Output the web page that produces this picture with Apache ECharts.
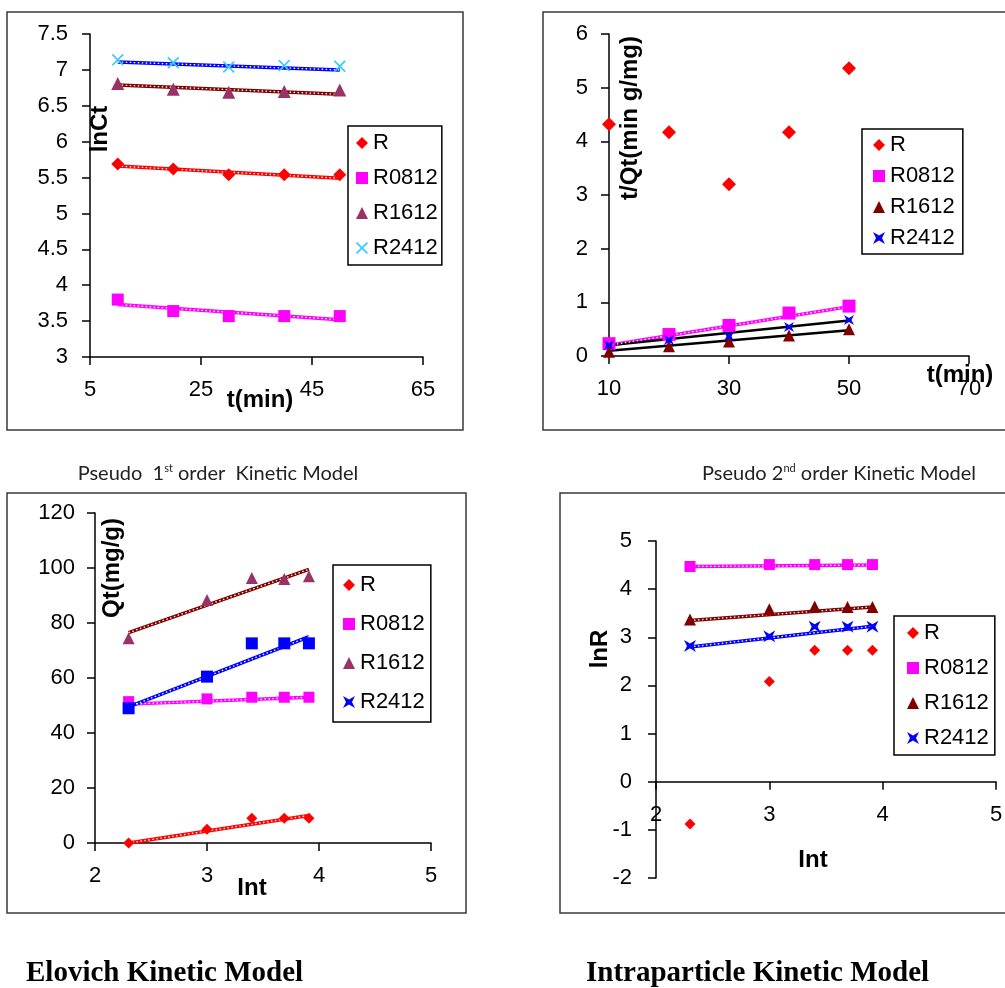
<!DOCTYPE html>
<html>
<head>
<meta charset="utf-8">
<script src="https://cdn.jsdelivr.net/npm/echarts@6.0.0/dist/echarts.min.js"></script>
<style>
html, body { margin: 0; padding: 0; background: #fff; }
#main { width: 1005px; height: 988px; }
</style>
</head>
<body>
<div id="main"></div>
<script>
// x values
var tMin = [10, 20, 30, 40, 50];
var lnT = [2.3, 3.0, 3.4, 3.69, 3.91];
var names = ['R', 'R0812', 'R1612', 'R2412'];

// panel 1: lnCt vs t(min)
var lnCt_R = [5.69, 5.62, 5.54, 5.54, 5.54];
var lnCt_R0812 = [3.8, 3.64, 3.57, 3.57, 3.57];
var lnCt_R1612 = [6.81, 6.73, 6.69, 6.7, 6.72];
var lnCt_R2412 = [7.14, 7.1, 7.04, 7.06, 7.05];
var lnCtFit_R = [5.66, 5.49];
var lnCtFit_R0812 = [3.73, 3.52];
var lnCtFit_R1612 = [6.79, 6.66];
var lnCtFit_R2412 = [7.11, 7.0];

// panel 2: t/Qt vs t(min)
var tQt_R = [4.32, 4.17, 3.2, 4.17, 5.36];
var tQt_R0812 = [0.23, 0.4, 0.57, 0.8, 0.93];
var tQt_R1612 = [0.08, 0.18, 0.27, 0.38, 0.5];
var tQt_R2412 = [0.2, 0.3, 0.37, 0.54, 0.67];
var tQtFit_R0812 = [0.2, 0.92];
var tQtFit_R1612 = [0.1, 0.48];
var tQtFit_R2412 = [0.2, 0.66];

// panel 3: Qt vs lnt
var Qt_R = [0, 5, 9, 9, 9];
var Qt_R0812 = [51.4, 52.4, 53, 53, 53];
var Qt_R1612 = [74.5, 88.4, 96.4, 96, 97];
var Qt_R2412 = [49, 60.5, 72.6, 72.6, 72.6];
var QtFit_R = [0, 10];
var QtFit_R0812 = [50.5, 53];
var QtFit_R1612 = [76.5, 99.5];
var QtFit_R2412 = [49.5, 75];

// panel 4: lnR vs lnt
var lnR_R = [-0.88, 2.08, 2.73, 2.73, 2.73];
var lnR_R0812 = [4.47, 4.51, 4.51, 4.51, 4.51];
var lnR_R1612 = [3.37, 3.58, 3.64, 3.63, 3.63];
var lnR_R2412 = [2.82, 3.02, 3.22, 3.22, 3.22];
var lnRFit_R0812 = [4.47, 4.5];
var lnRFit_R1612 = [3.35, 3.63];
var lnRFit_R2412 = [2.8, 3.23];

// tick labels
var ticks1x = [5, 25, 45, 65];
var ticks2x = [10, 30, 50, 70];

var FONT = '"Liberation Sans", Arial, sans-serif';
var xMark = 'path://M0,1L1,0L5,4L9,0L10,1L6,5L10,9L9,10L5,6L1,10L0,9L4,5Z';
var starMark = 'path://M0,0L5,3L10,0L7.5,5L10,10L5,7L0,10L2.5,5Z';

// panel 4 grid (x axis crosses y = 0)
var g4 = { left: 656, top: 541, width: 340, height: 337 };
var y4min = -2, y4max = 5;

function pts(xs, ys) {
    return xs.map(function(x, i) { return [x, ys[i]]; });
}

function scatter(p, name, xs, ys, sym, color, size) {
    return {
        type: 'scatter', name: name, xAxisIndex: p, yAxisIndex: p,
        data: pts(xs, ys), symbol: sym, symbolSize: size,
        itemStyle: { color: color, opacity: 1 }, z: 4, silent: true
    };
}

// trend line, optionally with the white dotted excel pattern on top
function fit(p, xs, ys, color, width, dotted) {
    var s = [{
        type: 'line', name: 'fit', xAxisIndex: p, yAxisIndex: p,
        data: pts(xs, ys), symbol: 'none', silent: true, z: 2,
        lineStyle: { color: color, width: width }
    }];
    if (dotted) {
        s.push({
            type: 'line', name: 'fit', xAxisIndex: p, yAxisIndex: p,
            data: pts(xs, ys), symbol: 'none', silent: true, z: 3,
            lineStyle: { color: '#fff', width: 1.3, type: [1.5, 2.5] }
        });
    }
    return s;
}

function xAx(i, min, max, interval, custom) {
    var ax = {
        type: 'value', gridIndex: i, min: min, max: max,
        axisLine: { onZero: false, lineStyle: { color: '#000', width: 1.5 } },
        axisTick: { length: 8, inside: false, lineStyle: { color: '#000', width: 1.5 } },
        axisLabel: { margin: 22, fontSize: 22, color: '#000', fontFamily: FONT, showMinLabel: true, showMaxLabel: true },
        splitLine: { show: false }
    };
    if (custom) {
        ax.axisTick.customValues = custom;
        ax.axisLabel.customValues = custom;
    } else {
        ax.interval = interval;
    }
    return ax;
}

function yAx(i, min, max, interval, margin) {
    return {
        type: 'value', gridIndex: i, min: min, max: max, interval: interval,
        axisLine: { show: true, onZero: false, lineStyle: { color: '#000', width: 1.5 } },
        axisTick: { show: true, length: 8, lineStyle: { color: '#000', width: 1.5 } },
        axisLabel: { margin: margin, fontSize: 22, color: '#000', fontFamily: FONT, showMinLabel: true, showMaxLabel: true },
        splitLine: { show: false }
    };
}

function legend(left, top, pad, gap, items) {
    return {
        orient: 'vertical', left: left, top: top, padding: pad, itemGap: gap,
        itemWidth: 12, itemHeight: 12, selectedMode: false,
        backgroundColor: '#fff', borderColor: '#000', borderWidth: 1.5, borderRadius: 0,
        textStyle: { fontSize: 22, lineHeight: 22, color: '#000', fontFamily: FONT, padding: [0, 0, 0, 0] },
        data: names.map(function(n, i) {
            return { name: n, icon: items[i][0], itemStyle: { color: items[i][1] } };
        })
    };
}

function label(x, y, text, rot, size) {
    return {
        type: 'text', x: x, y: y, rotation: rot ? Math.PI / 2 : 0, z: 10,
        style: {
            text: text, fill: '#000', fontFamily: FONT, fontWeight: 'bold', fontSize: size || 24,
            align: 'center', verticalAlign: 'middle'
        }
    };
}

function frame(x, y, w, h) {
    return { type: 'rect', shape: { x: x, y: y, width: w, height: h }, z: 0,
        style: { fill: null, stroke: '#3a3a3a', lineWidth: 1.5 } };
}

function title(x, y, num, sup, sp) {
    return {
        type: 'text', x: x, y: y, z: 10,
        style: {
            text: '{a|Pseudo' + sp + num + '}{s|' + sup + '}{a| order' + sp + 'Kinetic Model}',
            align: 'center', verticalAlign: 'middle',
            rich: {
                a: { fontFamily: 'Lato, "Open Sans", sans-serif', fontSize: 20, fill: '#222', lineHeight: 22 },
                s: { fontFamily: 'Lato, "Open Sans", sans-serif', fontSize: 11, fill: '#222', verticalAlign: 'top', lineHeight: 22, padding: [0, 0, 9, 0] }
            }
        }
    };
}

function caption(x, y, text) {
    return {
        type: 'text', x: x, y: y, z: 10,
        style: { text: text, fill: '#000', fontFamily: '"Liberation Serif", "Times New Roman", serif', fontWeight: 'bold', fontSize: 29, align: 'left', verticalAlign: 'middle' }
    };
}

var series = [].concat(
    // panel 1
    fit(0, [10, 50], lnCtFit_R, '#ff0000', 3.5, true),
    fit(0, [10, 50], lnCtFit_R0812, '#ff00ff', 3.5, true),
    fit(0, [10, 50], lnCtFit_R1612, '#800000', 3.5, true),
    fit(0, [10, 50], lnCtFit_R2412, '#0000ff', 3.5, true),
    scatter(0, 'R', tMin, lnCt_R, 'diamond', '#ff0000', 13),
    scatter(0, 'R0812', tMin, lnCt_R0812, 'rect', '#ff00ff', 12),
    scatter(0, 'R1612', tMin, lnCt_R1612, 'triangle', '#993366', 13),
    scatter(0, 'R2412', tMin, lnCt_R2412, xMark, '#33ccff', 12),
    // panel 2
    fit(1, [10, 50], tQtFit_R0812, '#ff00ff', 3.5, true),
    fit(1, [10, 50], tQtFit_R1612, '#000000', 2.5, false),
    fit(1, [10, 50], tQtFit_R2412, '#000000', 2.5, false),
    scatter(1, 'R', tMin, tQt_R, 'diamond', '#ff0000', 14),
    scatter(1, 'R0812', tMin, tQt_R0812, 'rect', '#ff00ff', 13),
    scatter(1, 'R1612', tMin, tQt_R1612, 'triangle', '#800000', 12),
    scatter(1, 'R2412', tMin, tQt_R2412, starMark, '#0000ff', 10),
    // panel 3
    fit(2, [2.3, 3.91], QtFit_R, '#ff0000', 3.5, true),
    fit(2, [2.3, 3.91], QtFit_R0812, '#ff00ff', 3.5, true),
    fit(2, [2.3, 3.91], QtFit_R1612, '#800000', 3.5, true),
    fit(2, [2.3, 3.91], QtFit_R2412, '#0000ff', 3.5, true),
    scatter(2, 'R', lnT, Qt_R, 'diamond', '#ff0000', 11),
    scatter(2, 'R0812', lnT, Qt_R0812, 'rect', '#ff00ff', 11),
    scatter(2, 'R1612', lnT, Qt_R1612, 'triangle', '#993366', 12),
    scatter(2, 'R2412', lnT, Qt_R2412, 'rect', '#0000ff', 12),
    // panel 4
    fit(3, [2.3, 3.91], lnRFit_R0812, '#ff00ff', 3.5, true),
    fit(3, [2.3, 3.91], lnRFit_R1612, '#800000', 3.5, true),
    fit(3, [2.3, 3.91], lnRFit_R2412, '#0000ff', 3.5, true),
    scatter(3, 'R', lnT, lnR_R, 'diamond', '#ff0000', 11),
    scatter(3, 'R0812', lnT, lnR_R0812, 'rect', '#ff00ff', 11),
    scatter(3, 'R1612', lnT, lnR_R1612, 'triangle', '#800000', 12),
    scatter(3, 'R2412', lnT, lnR_R2412, starMark, '#0000ff', 12)
);

var xAxis4 = xAx(3, 2, 5, 1);
// move the bottom axis up to y = 0
xAxis4.offset = -g4.height * (0 - y4min) / (y4max - y4min);

var option = {
    animation: false,
    backgroundColor: '#fff',
    grid: [
        { left: 90, top: 34, width: 333, height: 323, outerBoundsMode: 'none' },
        { left: 609, top: 34, width: 360, height: 322, outerBoundsMode: 'none' },
        { left: 95, top: 513, width: 336, height: 330, outerBoundsMode: 'none' },
        { left: g4.left, top: g4.top, width: g4.width, height: g4.height, outerBoundsMode: 'none' }
    ],
    xAxis: [
        xAx(0, 5, 65, null, ticks1x),
        xAx(1, 10, 70, null, ticks2x),
        xAx(2, 2, 5, 1),
        xAxis4
    ],
    yAxis: [
        yAx(0, 3, 7.5, 0.5, 22),
        yAx(1, 0, 6, 1, 21),
        yAx(2, 0, 120, 20, 20),
        yAx(3, y4min, y4max, 1, 24)
    ],
    legend: [
        legend(348, 126, [6, 4, 6, 8], 13, [['diamond', '#ff0000'], ['rect', '#ff00ff'], ['triangle', '#993366'], [xMark, '#33ccff']]),
        legend(862, 129, [5, 8, 5, 11], 9, [['diamond', '#ff0000'], ['rect', '#ff00ff'], ['triangle', '#800000'], [starMark, '#0000ff']]),
        legend(333, 565, [9, 6, 9, 10], 17, [['diamond', '#ff0000'], ['rect', '#ff00ff'], ['triangle', '#993366'], [starMark, '#0000ff']]),
        legend(894, 616, [6, 6, 6, 13], 13, [['diamond', '#ff0000'], ['rect', '#ff00ff'], ['triangle', '#800000'], [starMark, '#0000ff']])
    ],
    graphic: [
        frame(7, 12, 456, 418),
        frame(543, 12, 470, 418),
        frame(7, 493, 459, 420),
        frame(560, 493, 460, 420),
        label(100, 129, 'lnCt', true),
        label(260, 400, 't(min)'),
        label(630, 118, 't/Qt(min g/mg)', true),
        label(960, 375, 't(min)'),
        label(112, 568, 'Qt(mg/g)', true),
        label(252, 888, 'Int'),
        label(600, 649, 'lnR', true),
        label(813, 860, 'Int'),
        title(218, 474, '1', 'st', '  '),
        title(839, 474, '2', 'nd', ' '),
        caption(26, 974, 'Elovich Kinetic Model'),
        caption(586, 974, 'Intraparticle Kinetic Model')
    ],
    series: series
};

var chart = echarts.init(document.getElementById('main'));
chart.setOption(option);
</script>
</body>
</html>
